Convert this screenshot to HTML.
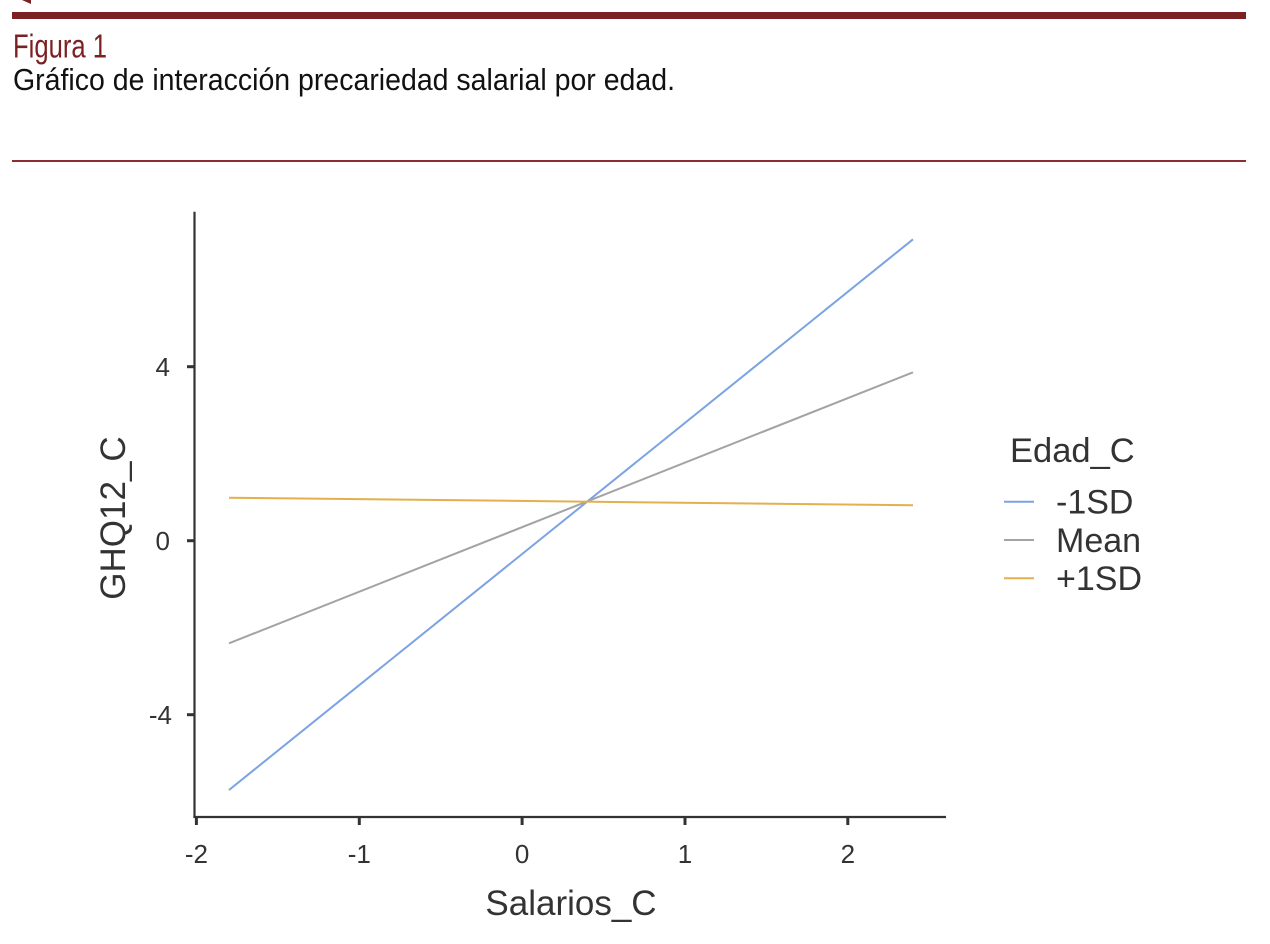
<!DOCTYPE html>
<html>
<head>
<meta charset="utf-8">
<style>
  html, body { margin: 0; padding: 0; background: #ffffff; }
  body { width: 1270px; height: 944px; overflow: hidden; }
  svg { display: block; }
</style>
</head>
<body>
<svg width="1270" height="944" viewBox="0 0 1270 944" xmlns="http://www.w3.org/2000/svg">
  <rect x="0" y="0" width="1270" height="944" fill="#ffffff"/>

  <!-- header decoration -->
  <polygon points="22,0 31,0 31,4" fill="#7b2123"/>
  <rect x="12" y="12" width="1234" height="7" fill="#7b2123"/>

  <text x="13" y="57.5" font-family="Liberation Sans, sans-serif" font-size="33" fill="#7b2123" textLength="94" lengthAdjust="spacingAndGlyphs">Figura 1</text>
  <text x="13" y="90" font-family="Liberation Sans, sans-serif" font-size="31" fill="#111111" textLength="662" lengthAdjust="spacingAndGlyphs">Gráfico de interacción precariedad salarial por edad.</text>

  <rect x="12" y="160" width="1234" height="2" fill="#8a2e31"/>

  <!-- axes -->
  <line x1="194.5" y1="211.7" x2="194.5" y2="818" stroke="#333333" stroke-width="2.2"/>
  <line x1="193.4" y1="817" x2="946" y2="817" stroke="#333333" stroke-width="2.2"/>

  <!-- y ticks -->
  <g stroke="#333333" stroke-width="3">
    <line x1="187" y1="366.7" x2="194.5" y2="366.7"/>
    <line x1="187" y1="540.7" x2="194.5" y2="540.7"/>
    <line x1="187" y1="714.7" x2="194.5" y2="714.7"/>
  </g>
  <!-- x ticks -->
  <g stroke="#333333" stroke-width="3">
    <line x1="196.4" y1="817" x2="196.4" y2="825"/>
    <line x1="359.3" y1="817" x2="359.3" y2="825"/>
    <line x1="522.1" y1="817" x2="522.1" y2="825"/>
    <line x1="685" y1="817" x2="685" y2="825"/>
    <line x1="847.8" y1="817" x2="847.8" y2="825"/>
  </g>

  <!-- y tick labels -->
  <g font-family="Liberation Sans, Arial, sans-serif" font-size="26" fill="#333333" text-anchor="end">
    <text x="170" y="376">4</text>
    <text x="170" y="550">0</text>
    <text x="172" y="724">-4</text>
  </g>
  <!-- x tick labels -->
  <g font-family="Liberation Sans, Arial, sans-serif" font-size="26" fill="#333333" text-anchor="middle">
    <text x="196.4" y="863">-2</text>
    <text x="359.3" y="863">-1</text>
    <text x="522.1" y="863">0</text>
    <text x="685" y="863">1</text>
    <text x="847.8" y="863">2</text>
  </g>

  <!-- axis titles -->
  <text x="571" y="915" font-family="Liberation Sans, Arial, sans-serif" font-size="35" fill="#333333" text-anchor="middle">Salarios_C</text>
  <text x="0" y="0" transform="translate(125,518) rotate(-90)" font-family="Liberation Sans, Arial, sans-serif" font-size="35" fill="#333333" text-anchor="middle">GHQ12_C</text>

  <!-- series -->
  <line x1="229" y1="790" x2="913" y2="239.3" stroke="#7ba3e4" stroke-width="2"/>
  <line x1="229" y1="643.3" x2="913" y2="372.3" stroke="#a3a3a3" stroke-width="2"/>
  <line x1="229" y1="497.7" x2="913" y2="505.3" stroke="#e2b04f" stroke-width="2"/>

  <!-- legend -->
  <text x="1010" y="462" font-family="Liberation Sans, Arial, sans-serif" font-size="34.5" fill="#333333">Edad_C</text>
  <line x1="1004" y1="501.7" x2="1034" y2="501.7" stroke="#7ba3e4" stroke-width="2"/>
  <line x1="1004" y1="540" x2="1034" y2="540" stroke="#a3a3a3" stroke-width="2"/>
  <line x1="1004" y1="578.3" x2="1034" y2="578.3" stroke="#e2b04f" stroke-width="2"/>
  <g font-family="Liberation Sans, Arial, sans-serif" font-size="34" fill="#333333">
    <text x="1056" y="513.5">-1SD</text>
    <text x="1056" y="552">Mean</text>
    <text x="1056" y="590">+1SD</text>
  </g>
</svg>
</body>
</html>
